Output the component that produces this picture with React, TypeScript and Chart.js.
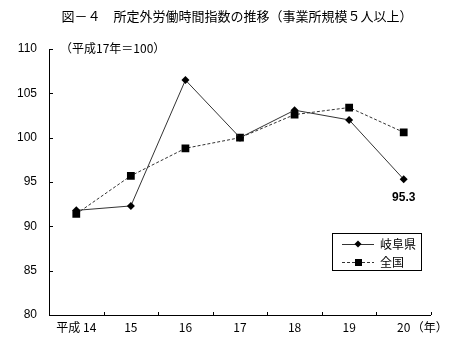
import React, { useEffect, useRef } from "react";
import { Chart, registerables } from "chart.js";

Chart.register(...registerables);

const categories = ["平成 14", "15", "16", "17", "18", "19", "20"];
const gifuValues = [91.8, 92.3, 106.5, 100.0, 103.1, 102.0, 95.3];
const zenkokuValues = [91.4, 95.7, 98.8, 100.0, 102.6, 103.4, 100.6];
const seriesNames = ["岐阜県", "全国"];
const yTicks = [80, 85, 90, 95, 100, 105, 110];
const titleText = "図－４　所定外労働時間指数の推移（事業所規模５人以上）";
const subtitleText = "（平成17年＝100）";
const yearUnit = "（年）";
const highlightLabel = "95.3";

const FONT = "'Liberation Sans', 'Noto Sans CJK JP', sans-serif";
const JP = "'Noto Sans CJK JP', 'Liberation Sans', sans-serif";

const decorPlugin = {
  id: "decor",
  afterDraw(chart: any) {
    const ctx = chart.ctx;
    const area = chart.chartArea;
    const xs = chart.scales.x;
    const ys = chart.scales.y;
    ctx.save();
    // axes
    ctx.strokeStyle = "#000";
    ctx.lineWidth = 1;
    ctx.beginPath();
    ctx.moveTo(area.left + 0.5, area.top);
    ctx.lineTo(area.left + 0.5, area.bottom + 0.5);
    ctx.lineTo(area.right, area.bottom + 0.5);
    ctx.stroke();
    // y ticks inward
    ctx.beginPath();
    yTicks.forEach((v) => {
      const y = Math.round(ys.getPixelForValue(v)) + 0.5;
      ctx.moveTo(area.left, y);
      ctx.lineTo(area.left + 4, y);
    });
    // x ticks inward at boundaries
    for (let i = 0; i <= categories.length; i++) {
      const x = Math.round(xs.getPixelForValue(i - 0.5)) + 0.5;
      ctx.moveTo(x, area.bottom);
      ctx.lineTo(x, area.bottom - 3);
    }
    ctx.stroke();

    // title
    ctx.fillStyle = "#000";
    ctx.textBaseline = "middle";
    ctx.textAlign = "center";
    ctx.font = "13px " + JP;
    ctx.fillText(titleText, 237, 16);
    // subtitle
    ctx.textAlign = "left";
    ctx.font = "12px " + JP;
    ctx.fillText(subtitleText, 60, 48);
    // year unit
    const lastX = xs.getPixelForValue(categories.length - 1);
    ctx.fillText(yearUnit, lastX + 8, 327);

    // highlight label
    const meta = chart.getDatasetMeta(0);
    const pt = meta.data[gifuValues.length - 1];
    ctx.textAlign = "center";
    ctx.font = "bold 12px " + FONT;
    ctx.fillText(highlightLabel, pt.x, pt.y + 18);

    // legend
    const lx = 332, ly = 233, lw = 89, lh = 37;
    ctx.strokeStyle = "#000";
    ctx.lineWidth = 1;
    ctx.strokeRect(lx + 0.5, ly + 0.5, lw, lh);
    const rows = [ly + 11, ly + 29];
    // row 1: solid + diamond
    ctx.strokeStyle = "#333";
    ctx.beginPath();
    ctx.moveTo(342, rows[0] + 0.5);
    ctx.lineTo(374, rows[0] + 0.5);
    ctx.stroke();
    ctx.fillStyle = "#000";
    ctx.beginPath();
    ctx.moveTo(358, rows[0] - 3.5);
    ctx.lineTo(361.5, rows[0]);
    ctx.lineTo(358, rows[0] + 3.5);
    ctx.lineTo(354.5, rows[0]);
    ctx.closePath();
    ctx.fill();
    // row 2: dashed + square
    ctx.strokeStyle = "#333";
    ctx.setLineDash([3, 2]);
    ctx.beginPath();
    ctx.moveTo(342, rows[1] + 0.5);
    ctx.lineTo(374, rows[1] + 0.5);
    ctx.stroke();
    ctx.setLineDash([]);
    ctx.fillRect(355, rows[1] - 3, 7, 7);
    ctx.textAlign = "left";
    ctx.font = "12px " + JP;
    ctx.fillStyle = "#000";
    ctx.fillText(seriesNames[0], 380, rows[0]);
    ctx.fillText(seriesNames[1], 380, rows[1]);
    ctx.restore();
  },
};

export default function App() {
  const ref = useRef<HTMLCanvasElement>(null);
  useEffect(() => {
    document.body.style.margin = "0";
    const chart = new Chart(ref.current!, {
      type: "line",
      data: {
        labels: categories,
        datasets: [
          {
            label: seriesNames[0],
            data: gifuValues,
            borderColor: "#333",
            borderWidth: 1,
            pointStyle: "rectRot",
            pointRadius: 4,
            pointBackgroundColor: "#000",
            pointBorderColor: "#000",
            pointBorderWidth: 0,
            tension: 0,
          },
          {
            label: seriesNames[1],
            data: zenkokuValues,
            borderColor: "#333",
            borderWidth: 1,
            borderDash: [3, 2],
            pointStyle: "rect",
            pointRadius: 5.5,
            pointBackgroundColor: "#000",
            pointBorderColor: "#000",
            pointBorderWidth: 0,
            tension: 0,
          },
        ],
      },
      options: {
        animation: false,
        responsive: false,
        layout: { padding: { left: 0, top: 49, right: 38, bottom: 0 } },
        plugins: { legend: { display: false }, tooltip: { enabled: false } },
        scales: {
          x: {
            type: "category",
            offset: true,
            grid: { display: false, drawTicks: false },
            border: { display: false },
            ticks: {
              color: "#000",
              font: { family: JP, size: 12 },
              padding: 5,
              maxRotation: 0,
              autoSkip: false,
            },
            afterFit: (s: any) => {
              s.height = 38;
            },
          },
          y: {
            min: 80,
            max: 110,
            grid: { display: false, drawTicks: false },
            border: { display: false },
            ticks: {
              stepSize: 5,
              color: "#000",
              font: { family: FONT, size: 12 },
              padding: 12,
            },
            afterFit: (s: any) => {
              s.width = 49;
            },
          },
        },
      },
      plugins: [decorPlugin],
    });
    return () => chart.destroy();
  }, []);
  return <canvas ref={ref} width={469} height={353} style={{ display: "block" }} />;
}
